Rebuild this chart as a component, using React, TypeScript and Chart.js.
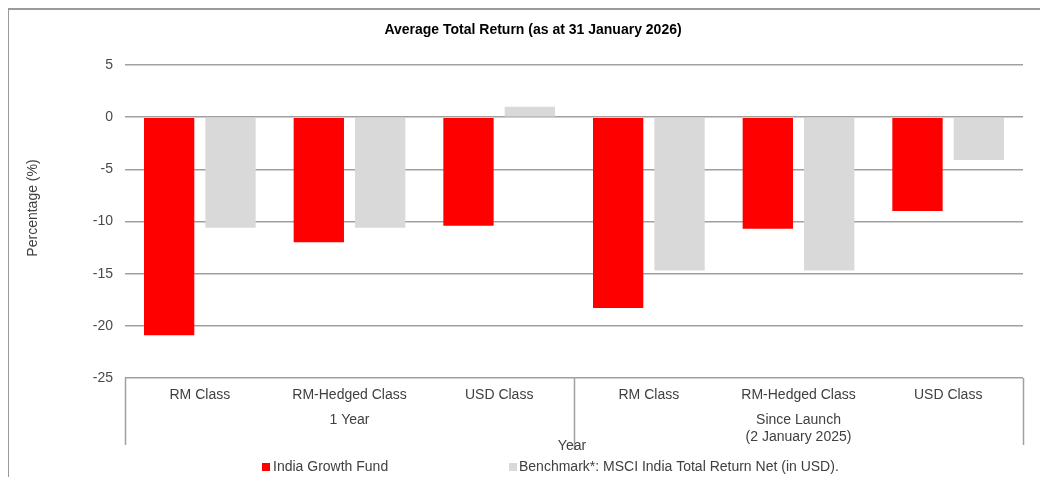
import React, { useEffect, useRef } from 'react';
import { Chart, registerables } from 'chart.js';

Chart.register(...registerables);

const categories = ['RM Class', 'RM-Hedged Class', 'USD Class', 'RM Class', 'RM-Hedged Class', 'USD Class'];
const groupLabels = [['1 Year'], ['Since Launch', '(2 January 2025)']];
const groupSizes = [3, 3];
const fundValues = [-20.9, -12.0, -10.4, -18.3, -10.7, -9.0];
const benchmarkValues = [-10.6, -10.6, 1.0, -14.7, -14.7, -4.1];
const seriesNames = ['India Growth Fund', 'Benchmark*: MSCI India Total Return Net (in USD).'];
const yMin = -25;
const yMax = 5;
const yStep = 5;
const chartTitle = 'Average Total Return (as at 31 January 2026)';
const yTitle = 'Percentage (%)';
const xTitle = 'Year';

const FONT = '"Liberation Sans", Arial, sans-serif';
const RED = '#FF0000';
const GREY = '#D9D9D9';
const LINE = '#a0a0a0';
const TEXT = '#404040';

const overlayPlugin = {
  id: 'overlay',
  afterDraw(chart: any) {
    const ctx = chart.ctx;
    const area = chart.chartArea;
    const xs = chart.scales.x;
    ctx.save();

    // Title
    ctx.fillStyle = '#000';
    ctx.font = `bold 14px ${FONT}`;
    ctx.textAlign = 'center';
    ctx.textBaseline = 'middle';
    ctx.fillText(chartTitle, 525, 22);

    // Y axis title
    ctx.save();
    ctx.translate(25, 200);
    ctx.rotate(-Math.PI / 2);
    ctx.font = `14px ${FONT}`;
    ctx.fillStyle = TEXT;
    ctx.fillText(yTitle, 0, 0);
    ctx.restore();

    // Category labels
    ctx.font = `14px ${FONT}`;
    ctx.fillStyle = TEXT;
    categories.forEach((c, i) => {
      ctx.fillText(c, xs.getPixelForValue(i), area.bottom + 17);
    });

    // Group labels and separators
    ctx.strokeStyle = LINE;
    ctx.lineWidth = 1.5;
    let start = 0;
    const boundaries: number[] = [area.left];
    groupSizes.forEach((n, g) => {
      const first = xs.getPixelForValue(start);
      const last = xs.getPixelForValue(start + n - 1);
      const cx = (first + last) / 2;
      groupLabels[g].forEach((t, k) => {
        ctx.fillText(t, cx, area.bottom + 42 + k * 17);
      });
      start += n;
      if (start < categories.length) {
        boundaries.push((xs.getPixelForValue(start - 1) + xs.getPixelForValue(start)) / 2);
      }
    });
    boundaries.push(area.right);
    boundaries.forEach((bx, i) => {
      const inner = i > 0 && i < boundaries.length - 1;
      ctx.beginPath();
      ctx.moveTo(Math.round(bx) + 0.5, area.bottom);
      ctx.lineTo(Math.round(bx) + 0.5, area.bottom + (inner ? 72 : 67));
      ctx.stroke();
    });

    // X axis title
    ctx.fillStyle = TEXT;
    ctx.fillText(xTitle, 564, area.bottom + 68);

    // Legend
    const ly = 459;
    ctx.textAlign = 'left';
    ctx.fillStyle = RED;
    ctx.fillRect(254, ly - 4, 8, 8);
    ctx.fillStyle = TEXT;
    ctx.fillText(seriesNames[0], 265, ly);
    ctx.fillStyle = GREY;
    ctx.fillRect(501, ly - 4, 8, 8);
    ctx.fillStyle = TEXT;
    ctx.fillText(seriesNames[1], 511, ly);

    ctx.restore();
  },
};

export default function App() {
  const ref = useRef<HTMLCanvasElement>(null);

  useEffect(() => {
    document.body.style.overflow = 'hidden';
    const chart = new Chart(ref.current as HTMLCanvasElement, {
      type: 'bar',
      data: {
        labels: categories,
        datasets: [
          {
            label: seriesNames[0],
            data: fundValues,
            backgroundColor: RED,
            barPercentage: 0.82,
            categoryPercentage: 0.82,
          },
          {
            label: seriesNames[1],
            data: benchmarkValues,
            backgroundColor: GREY,
            barPercentage: 0.82,
            categoryPercentage: 0.82,
          },
        ],
      },
      options: {
        animation: false,
        responsive: false,
        devicePixelRatio: 1,
        layout: { padding: { left: 0, right: 17, top: 57, bottom: 99 } },
        plugins: {
          legend: { display: false },
          title: { display: false },
          tooltip: { enabled: false },
        },
        scales: {
          x: { display: false },
          y: {
            min: yMin,
            max: yMax,
            ticks: {
              stepSize: yStep,
              padding: 12,
              color: '#4a4a4a',
              font: { family: FONT, size: 14 },
            },
            grid: { color: LINE, lineWidth: 1.5, drawTicks: false },
            border: { display: false },
            afterFit(scale: any) {
              scale.width = 117;
            },
          },
        },
      },
      plugins: [overlayPlugin],
    } as any);
    return () => chart.destroy();
  }, []);

  return (
    <div style={{ position: 'relative', width: 1032, height: 469 }}>
      <div style={{ position: 'absolute', left: -1, top: 0, width: 1040, height: 2, background: '#9a9a9a' }} />
      <div style={{ position: 'absolute', left: -1, top: 0, width: 2, height: 469, background: '#9a9a9a' }} />
      <canvas ref={ref} width={1032} height={469} style={{ position: 'absolute', left: 0, top: 0 }} />
    </div>
  );
}
